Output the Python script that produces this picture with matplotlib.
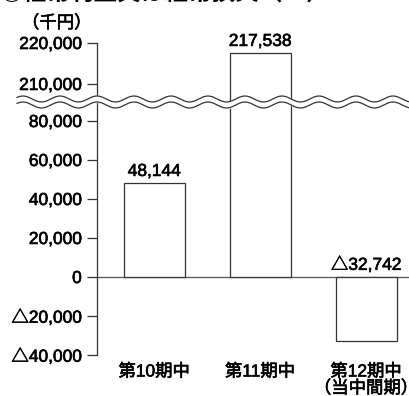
import numpy as np
import matplotlib
matplotlib.use("Agg")
import matplotlib.pyplot as plt
import matplotlib.patheffects as pe

plt.rcParams['font.family'] = ['Liberation Sans', 'Noto Sans CJK JP', 'DejaVu Sans']

# data (thousand yen)
periods = ['第10期中', '第11期中', '第12期中\n（当中間期）']
profits = [48144, 217538, -32742]
low_ticks = [-40000, -20000, 0, 20000, 40000, 60000, 80000]
high_ticks = [210000, 220000]

LINE = '#333333'
FS = 12.5
# slightly heavier glyphs
heavy = [pe.withStroke(linewidth=0.45, foreground='black')]


def fmt(v):
    s = f"{abs(v):,}"
    return '△' + s if v < 0 else s


W, H = 409, 396
fig = plt.figure(figsize=(W / 100, H / 100), dpi=100)

left = 97 / W
width = 1 - left
ax_lo = fig.add_axes([left, 41 / H, width, 252 / H])
ax_hi = fig.add_axes([left, 293 / H, width, 60 / H], sharex=ax_lo)

x = np.arange(len(periods))
for ax in (ax_lo, ax_hi):
    ax.bar(x, profits, width=0.575, facecolor='white', edgecolor=LINE, linewidth=0.9, zorder=2)
    for s in ('top', 'right', 'bottom'):
        ax.spines[s].set_visible(False)
    ax.spines['left'].set_color(LINE)
    ax.spines['left'].set_linewidth(0.9)
    ax.tick_params(axis='y', direction='out', length=7.5, width=0.9, color=LINE,
                   pad=3.5, labelsize=FS)
    ax.patch.set_alpha(0)

ax_lo.set_xlim(-0.54, 2.405)
ax_lo.set_ylim(-40000, 89230)
ax_hi.set_ylim(205366, 220000)

ax_lo.set_yticks(low_ticks)
ax_lo.set_yticklabels([fmt(v) for v in low_ticks])
ax_hi.set_yticks(high_ticks)
ax_hi.set_yticklabels([fmt(v) for v in high_ticks])

ax_lo.axhline(0, color='#555555', linewidth=0.9, zorder=1)

ax_lo.set_xticks(x)
ax_lo.set_xticklabels(periods, fontsize=FS, linespacing=1.0)
ax_lo.tick_params(axis='x', length=0, pad=6)
ax_hi.tick_params(axis='x', length=0, labelbottom=False)

for ax in (ax_lo, ax_hi):
    for t in ax.get_yticklabels() + ax.get_xticklabels():
        t.set_path_effects(heavy)

# value labels
for i, v in enumerate(profits):
    target = ax_hi if v > 89230 else ax_lo
    target.annotate(fmt(v), (i, max(v, 0)), xytext=(0, 3), textcoords='offset points',
                    ha='center', va='bottom', fontsize=FS, path_effects=heavy)

fig.text(22 / W, 1 - 31 / H, '（千円）', fontsize=FS, ha='left', va='bottom',
         path_effects=heavy)
# heading sits partly above the top edge
fig.text(0, 1 - 5 / H, '◎経常利益又は経常損失（△）', fontsize=17, fontweight='bold',
         ha='left', va='bottom')

# wavy break across the axis
ov = fig.add_axes([0, 0, 1, 1], zorder=10)
ov.set_xlim(0, W)
ov.set_ylim(H, 0)
ov.axis('off')
xs = np.linspace(17, W, 600)
wave = 3 * np.cos(2 * np.pi * (xs - 97) / 37)
upper = 99 - wave
lower = 105 - wave
ov.fill_between(xs, upper, lower, color='white', zorder=1)
ov.plot(xs, upper, color=LINE, linewidth=0.9, zorder=2)
ov.plot(xs, lower, color=LINE, linewidth=0.9, zorder=2)

fig.savefig('out.png', dpi=100)
